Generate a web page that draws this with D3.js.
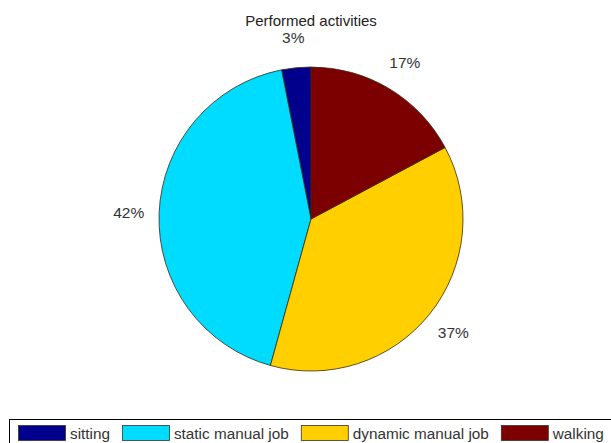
<!DOCTYPE html>
<html>
<head>
<meta charset="utf-8">
<script src="https://cdn.jsdelivr.net/npm/d3@7"></script>
<style>
  body { margin: 0; background: #fff; }
  svg { display: block; font-family: "Liberation Sans", Arial, sans-serif; }
</style>
</head>
<body>
<svg id="chart" width="611" height="443"></svg>
<script>
// data
var categories = ["sitting", "static manual job", "dynamic manual job", "walking"];
var values = [3.1, 42.6, 37.1, 17.2];
var pctLabels = ["3%", "42%", "37%", "17%"];
var colors = ["#00008c", "#00dcff", "#ffcf00", "#7d0000"];

var width = 611, height = 443;
var cx = 311, cy = 219, R = 152;

var svg = d3.select("#chart");

svg.append("text")
  .attr("x", cx).attr("y", 26)
  .attr("text-anchor", "middle")
  .style("font-size", "15px").style("fill", "#222")
  .text("Performed activities");

// matlab draws from 12 o'clock going counter-clockwise
var pie = d3.pie().sort(null).value(d => d)
  .startAngle(0).endAngle(-2 * Math.PI);
var arcs = pie(values);

var arc = d3.arc().innerRadius(0).outerRadius(R);

var g = svg.append("g").attr("transform", "translate(" + cx + "," + cy + ")");

g.selectAll("path")
  .data(arcs)
  .enter().append("path")
  .attr("d", arc)
  .style("fill", (d, i) => colors[i])
  .style("stroke", "#3a2a10")
  .style("stroke-width", 0.8);

// labels at 1.2 * radius, centred
g.selectAll("text.lbl")
  .data(arcs)
  .enter().append("text")
  .attr("class", "lbl")
  .attr("x", d => { var a = (d.startAngle + d.endAngle) / 2; return 1.2 * R * Math.sin(a); })
  .attr("y", d => { var a = (d.startAngle + d.endAngle) / 2; return -1.2 * R * Math.cos(a); })
  .attr("dy", "0.35em")
  .attr("text-anchor", "middle")
  .style("font-size", "15.5px").style("fill", "#333")
  .text((d, i) => pctLabels[i]);

// legend, horizontal box along the bottom
var lg = svg.append("g");
lg.append("rect")
  .attr("x", 9.5).attr("y", 419.5)
  .attr("width", 620).attr("height", 40)
  .style("fill", "#fff").style("stroke", "#000").style("stroke-width", 1);

var lx = 18;
categories.forEach(function(c, i) {
  lg.append("rect")
    .attr("x", lx + 0.5).attr("y", 425.5)
    .attr("width", 47).attr("height", 15)
    .style("fill", colors[i]).style("stroke", "#333").style("stroke-width", 0.8);
  var t = lg.append("text")
    .attr("x", lx + 52).attr("y", 439)
    .style("font-size", "15.3px").style("fill", "#333")
    .text(c);
  lx = lx + 52 + t.node().getComputedTextLength() + 12;
});
</script>
</body>
</html>
